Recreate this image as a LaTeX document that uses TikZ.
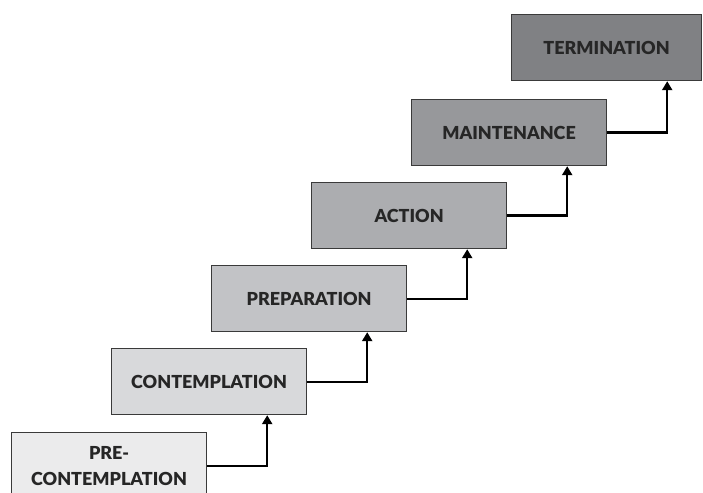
\documentclass[tikz,border=0pt]{standalone}
\usepackage{fontspec}
\setmainfont{Lato}[BoldFont=* Black]
\usetikzlibrary{arrows.meta,calc}

\definecolor{stageA}{HTML}{EBEBEC}
\definecolor{stageB}{HTML}{D8D9DB}
\definecolor{stageC}{HTML}{C2C3C6}
\definecolor{stageD}{HTML}{ACADB0}
\definecolor{stageE}{HTML}{97989B}
\definecolor{stageF}{HTML}{808184}
\definecolor{edge}{HTML}{3A3A3A}
\definecolor{ink}{HTML}{262626}

\tikzset{
  stage/.style={draw=edge, line width=1.2bp, minimum width=195bp, minimum height=66bp,
    inner sep=0pt, anchor=north west, font=\fontsize{18}{26}\selectfont\bfseries,
    text=ink, align=center},
  stepline/.style={draw=black, line width=2.2bp,
    -{Triangle[width=10bp,length=9bp]}},
}

\begin{document}
\begin{tikzpicture}[x=1bp,y=-1bp]
  \useasboundingbox (0,0) rectangle (703,493);
  \clip (0,0) rectangle (703,493);

  \node[stage, fill=stageA] (s0) at (11,432) {PRE-\\CONTEMPLATION};
  \node[stage, fill=stageB] (s1) at (111,348) {CONTEMPLATION};
  \node[stage, fill=stageC] (s2) at (211,265) {PREPARATION};
  \node[stage, fill=stageD] (s3) at (311,182) {ACTION};
  \node[stage, fill=stageE] (s4) at (411,99) {MAINTENANCE};
  \node[stage, fill=stageF, minimum width=190bp] (s5) at (511,14) {TERMINATION};

  \foreach \a/\b in {s0/s1, s1/s2, s2/s3, s3/s4, s4/s5}{
    \draw[stepline] (\a.east) -- ++(60,0) coordinate (turn) -- (turn |- \b.south);
  }
\end{tikzpicture}
\end{document}
